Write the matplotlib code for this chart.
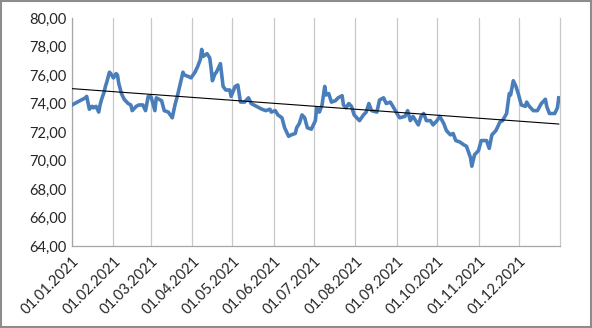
import matplotlib

matplotlib.use("Agg")
import matplotlib.dates as mdates
import matplotlib.pyplot as plt
import numpy as np
import pandas as pd
from matplotlib.patches import Rectangle

# exchange rate (date, value)
dates = [
    "2021-01-01", "2021-01-11", "2021-01-12", "2021-01-14", "2021-01-16", "2021-01-17",
    "2021-01-19", "2021-01-21", "2021-01-22", "2021-01-23", "2021-01-25", "2021-01-26",
    "2021-01-27", "2021-01-29", "2021-01-30", "2021-02-01", "2021-02-03", "2021-02-04",
    "2021-02-05", "2021-02-07", "2021-02-09", "2021-02-12", "2021-02-14", "2021-02-15",
    "2021-02-18", "2021-02-20", "2021-02-23", "2021-02-25", "2021-02-27", "2021-03-01",
    "2021-03-04", "2021-03-05", "2021-03-09", "2021-03-11", "2021-03-14", "2021-03-17",
    "2021-03-19", "2021-03-21", "2021-03-25", "2021-03-26", "2021-03-29", "2021-03-31",
    "2021-04-03", "2021-04-05", "2021-04-07", "2021-04-08", "2021-04-09", "2021-04-12",
    "2021-04-14", "2021-04-15", "2021-04-16", "2021-04-18", "2021-04-19", "2021-04-22",
    "2021-04-24", "2021-04-26", "2021-04-29", "2021-04-30", "2021-05-03", "2021-05-05",
    "2021-05-07", "2021-05-10", "2021-05-13", "2021-05-15", "2021-05-19", "2021-05-23",
    "2021-05-26", "2021-05-29", "2021-05-30", "2021-06-02", "2021-06-04", "2021-06-07",
    "2021-06-09", "2021-06-10", "2021-06-12", "2021-06-14", "2021-06-17", "2021-06-18",
    "2021-06-20", "2021-06-22", "2021-06-24", "2021-06-26", "2021-06-29", "2021-07-02",
    "2021-07-03", "2021-07-05", "2021-07-07", "2021-07-09", "2021-07-10", "2021-07-12",
    "2021-07-14", "2021-07-17", "2021-07-19", "2021-07-22", "2021-07-23", "2021-07-25",
    "2021-07-27", "2021-07-29", "2021-07-31", "2021-08-04", "2021-08-07", "2021-08-09",
    "2021-08-11", "2021-08-13", "2021-08-17", "2021-08-19", "2021-08-22", "2021-08-24",
    "2021-08-27", "2021-08-29", "2021-09-01", "2021-09-03", "2021-09-07", "2021-09-09",
    "2021-09-11", "2021-09-13", "2021-09-15", "2021-09-17", "2021-09-19", "2021-09-21",
    "2021-09-23", "2021-09-26", "2021-09-28", "2021-10-01", "2021-10-03", "2021-10-06",
    "2021-10-08", "2021-10-11", "2021-10-13", "2021-10-15", "2021-10-18", "2021-10-21",
    "2021-10-23", "2021-10-26", "2021-10-27", "2021-10-29", "2021-11-01", "2021-11-03",
    "2021-11-07", "2021-11-09", "2021-11-11", "2021-11-14", "2021-11-17", "2021-11-19",
    "2021-11-22", "2021-11-24", "2021-11-25", "2021-11-27", "2021-11-29", "2021-12-01",
    "2021-12-03", "2021-12-06", "2021-12-07", "2021-12-09", "2021-12-12", "2021-12-15",
    "2021-12-18", "2021-12-21", "2021-12-22", "2021-12-24", "2021-12-28", "2021-12-30",
    "2021-12-31",
]
values = [
    73.9, 74.4, 74.5, 73.6, 73.8, 73.7,
    73.8, 73.4, 73.9, 74.25, 74.8, 75.2,
    75.5, 76.2, 76.1, 75.8, 76.1, 76.0,
    75.4, 74.7, 74.3, 74.0, 73.9, 73.5,
    73.8, 73.9, 73.9, 73.5, 74.5, 74.5,
    73.5, 74.4, 74.2, 73.5, 73.4, 73.0,
    73.9, 74.6, 76.2, 76.0, 75.9, 75.8,
    76.2, 76.6, 77.1, 77.8, 77.3, 77.5,
    77.2, 76.5, 75.6, 76.1, 76.2, 76.8,
    75.2, 74.95, 74.95, 74.5, 75.2, 75.3,
    74.1, 74.1, 74.4, 74.0, 73.8, 73.6,
    73.5, 73.6, 73.4, 73.5, 73.2, 73.0,
    72.3, 72.1, 71.7, 71.8, 71.9, 72.3,
    72.6, 73.2, 73.0, 72.3, 72.2, 72.8,
    73.7, 73.4, 73.9, 75.2, 74.6, 74.7,
    74.1, 74.2, 74.4, 74.55, 73.9, 73.7,
    74.0, 73.8, 73.2, 72.8, 73.2, 73.4,
    74.0, 73.5, 73.4, 74.25, 74.4, 74.0,
    74.1, 73.8, 73.3, 73.0, 73.1, 73.5,
    72.8, 73.1, 72.8, 72.5, 73.1, 73.3,
    72.8, 72.8, 72.5, 72.8, 73.1, 72.6,
    72.1, 71.8, 71.9, 71.4, 71.3, 71.1,
    71.0, 70.2, 69.6, 70.4, 70.7, 71.4,
    71.4, 70.85, 71.8, 72.1, 72.7, 72.8,
    73.3, 74.7, 74.6, 75.6, 75.2, 74.6,
    73.9, 73.8, 74.1, 73.8, 73.5, 73.5,
    74.0, 74.3, 73.8, 73.3, 73.3, 73.7,
    74.4,
]
y_ticks = [64, 66, 68, 70, 72, 74, 76, 78, 80]

BLUE = "#4a7ebb"
GRID = "#c8c8c8"

plt.rcParams["font.family"] = ["Lato", "DejaVu Sans"]

x = pd.to_datetime(dates)
y = np.array(values)

fig = plt.figure(figsize=(5.92, 3.28), dpi=100)
ax = fig.add_axes([0.1216, 0.25, 0.8245, 0.695])

ax.plot(x, y, color=BLUE, lw=2.6, solid_joinstyle="round", zorder=3)

# linear trend
xn = mdates.date2num(x)
k, b = np.polyfit(xn, y, 1)
ax.plot(x[[0, -1]], k * xn[[0, -1]] + b, color="black", lw=0.8, zorder=4)

ax.set_ylim(64, 80)
ax.set_yticks(y_ticks)
ax.set_yticklabels([f"{v:.2f}".replace(".", ",") for v in y_ticks])
ax.set_xlim(pd.Timestamp("2021-01-01"), pd.Timestamp("2022-01-01"))
months = pd.date_range("2021-01-01", "2021-12-01", freq="MS")
ax.set_xticks(months)
ax.set_xticklabels([m.strftime("%d.%m.%Y") for m in months], rotation=45,
                   ha="right", va="top", rotation_mode="anchor")
ax.grid(axis="x", color=GRID, lw=0.9)
ax.tick_params(length=0, labelsize=10.5, colors="#262626", pad=4)
ax.tick_params(axis="x", pad=6)

ax.spines["top"].set_visible(False)
ax.spines["right"].set_color(GRID)
ax.spines["right"].set_linewidth(0.9)
for s in ("left", "bottom"):
    ax.spines[s].set_color("#a6a6a6")
    ax.spines[s].set_linewidth(0.9)

fig.add_artist(Rectangle((0.002, 0.003), 0.996, 0.994, transform=fig.transFigure,
                         fill=False, edgecolor="#8c8c8c", lw=1.5))

fig.savefig("out.png", dpi=100)
